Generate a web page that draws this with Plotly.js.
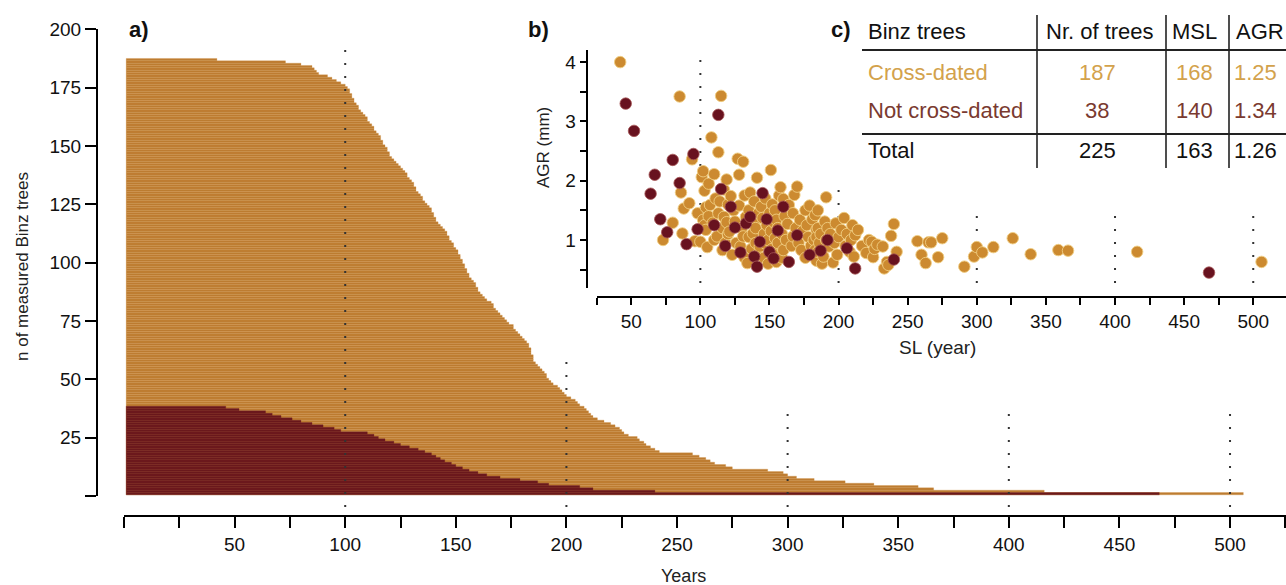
<!DOCTYPE html>
<html>
<head>
<meta charset="utf-8">
<script src="https://cdn.plot.ly/plotly-3.0.1.min.js"></script>
<style>html,body{margin:0;padding:0;background:#fff;}#chart{width:1286px;height:585px;}</style>
</head>
<body>
<div id="chart"></div>
<script>
// ---------- DATA ----------
// Cross-dated trees: segment length (SL, years) and average growth rate (AGR, mm)
const crossSL = [42,73,80,85,86,87,88,92,94,96,
98,100,101,102,102,103,103,104,104,105,
106,106,107,108,109,110,110,111,112,113,
113,114,115,116,116,117,117,118,119,119,
120,120,121,122,123,124,125,126,127,128,
128,129,130,131,131,132,132,133,134,135,
135,136,137,138,139,139,140,140,141,141,
142,143,144,145,146,146,147,147,148,149,
149,150,151,151,152,152,153,153,154,154,
155,155,156,156,157,158,159,159,160,160,
161,162,163,164,166,167,167,168,169,170,
171,172,173,174,176,176,177,178,179,180,
181,182,183,183,184,184,184,185,185,185,
186,187,188,189,190,191,191,192,193,194,
196,197,198,199,200,202,204,205,206,208,
209,210,211,212,214,217,220,222,224,225,
226,228,232,233,235,236,238,240,242,257,
260,263,265,267,272,275,291,298,300,304,
312,326,339,359,366,416,506];
const crossAGR = [4.00,1.00,1.29,3.42,1.80,1.11,1.53,1.62,2.36,0.98,
1.45,0.97,2.06,1.34,2.16,1.83,1.25,1.17,1.55,0.88,
1.95,1.40,1.59,2.73,1.29,2.11,1.00,1.70,1.06,2.48,
1.45,1.65,3.43,1.20,0.83,1.39,1.85,0.95,2.02,1.30,
1.10,1.60,1.14,1.74,0.75,1.50,1.31,0.95,2.37,1.58,
2.10,0.89,1.20,2.32,1.06,1.75,0.70,1.39,0.61,1.05,
1.50,1.80,0.85,1.11,1.30,1.65,0.95,1.20,2.05,0.75,
1.45,0.89,1.56,1.37,1.10,0.70,0.94,1.70,1.25,1.00,
0.60,1.45,2.18,1.15,0.85,1.60,1.30,0.75,1.03,1.50,
1.34,0.63,1.20,0.95,1.75,1.89,1.10,0.70,1.69,0.83,
1.40,1.00,1.27,1.59,0.90,1.06,1.45,1.76,1.20,1.90,
0.95,1.34,0.83,1.15,1.50,0.70,1.25,1.05,1.58,0.90,
1.35,1.00,0.83,1.42,1.17,0.65,1.05,1.20,0.80,1.50,
0.95,1.10,0.60,0.72,1.31,1.72,1.00,1.20,0.89,1.10,
0.62,0.95,1.28,0.75,1.05,1.17,1.37,0.90,1.10,0.80,
1.00,1.25,0.72,1.08,1.17,0.90,0.78,1.00,0.97,0.71,
0.85,0.92,0.89,0.52,0.63,0.58,1.07,1.27,0.80,0.98,
0.75,0.61,0.96,0.96,0.71,1.03,0.55,0.72,0.88,0.79,
0.88,1.03,0.76,0.83,0.82,0.80,0.63];
// Not cross-dated trees
const notSL = [46,52,64,67,71,76,80,85,90,95,98,110,113,115,118,122,125,129,133,136,
139,141,143,145,148,150,153,156,160,164,170,179,187,192,206,212,240,468];
const notAGR = [3.30,2.84,1.78,2.10,1.35,1.13,2.35,1.96,0.93,2.45,1.18,1.25,3.11,1.86,0.90,1.56,1.21,0.79,1.28,1.39,
0.72,0.55,0.97,1.79,1.35,0.80,0.69,1.16,1.56,0.63,1.08,0.75,0.82,1.00,0.86,0.52,0.67,0.45];
// Table c)
const tableHeader = ['Binz trees','Nr. of trees','MSL','AGR'];
const groups = ['Cross-dated','Not cross-dated','Total'];
const nTrees = [187, 38, 225];
const mslVals = [168, 140, 163];
const agrVals = ['1.25','1.34','1.26'];
// Axis ticks
const xTicksA = [0,25,50,75,100,125,150,175,200,225,250,275,300,325,350,375,400,425,450,475,500,525];
const yTicksA = [0,25,50,75,100,125,150,175,200];
const xTicksB = [25,50,75,100,125,150,175,200,225,250,275,300,325,350,375,400,425,450,475,500];
const yTicksB = [0.5,1,1.5,2,2.5,3,3.5,4];
const guideYears = [100,200,300,400,500];

// ---------- STYLE ----------
const W = 1286, H = 585;
const fx = p => p / W, fy = p => (H - p) / H;
const FONT = 'Liberation Sans, Arial, Helvetica, sans-serif';
const ORANGE = '#bd7c31', MAROON = '#6a181c';
const DOT_OR = '#cc8a30', DOT_MA = '#68121f';

const crossSorted = crossSL.slice().sort((a,b)=>b-a);
const notSorted = notSL.slice().sort((a,b)=>b-a);
const rank = n => Array.from({length:n}, (_,i)=>i+1);

const traces = [
  {type:'bar', orientation:'h', y: rank(crossSorted.length), x: crossSorted.map(v=>v-1), base: 1,
   width: 1, marker:{color: ORANGE, line:{color:'rgba(206,142,62,0.55)', width:0.5}}, xaxis:'x', yaxis:'y', hoverinfo:'skip'},
  {type:'bar', orientation:'h', y: rank(notSorted.length), x: notSorted.map(v=>v-1), base: 1,
   width: 1, marker:{color: MAROON, line:{color:'rgba(125,36,36,0.6)', width:0.5}}, xaxis:'x', yaxis:'y', hoverinfo:'skip'},
  {type:'scatter', mode:'markers', x: crossSL, y: crossAGR, xaxis:'x2', yaxis:'y2',
   marker:{color: DOT_OR, size:11.5, line:{color:'rgba(240,205,130,0.9)', width:1}}, hoverinfo:'skip', cliponaxis:false},
  {type:'scatter', mode:'markers', x: notSL, y: notAGR, xaxis:'x2', yaxis:'y2',
   marker:{color: DOT_MA, size:11.5, line:{color:'rgba(165,85,85,0.8)', width:1}}, hoverinfo:'skip', cliponaxis:false}
];

const axBase = {showgrid:false, zeroline:false, showline:true, linecolor:'#000', linewidth:2,
  ticks:'outside', tickcolor:'#000', tickwidth:2, tickfont:{family:FONT, size:19, color:'#111'}, fixedrange:true};

const shapes = [];
// dotted guides in a)
const guideTopA = {100:42, 200:362, 300:406, 400:406, 500:406};
guideYears.forEach(g => shapes.push({type:'line', xref:'x', yref:'paper', x0:g, x1:g, y0:fy(507), y1:fy(guideTopA[g]),
  line:{color:'#333', width:2, dash:'2px,11px'}, layer:'above'}));
// dotted guides in b)
const guideTopB = {100:52, 200:186, 300:212, 400:212, 500:212};
guideYears.forEach(g => shapes.push({type:'line', xref:'x2', yref:'paper', x0:g, x1:g, y0:fy(283), y1:fy(guideTopB[g]),
  line:{color:'#333', width:2, dash:'2px,11px'}, layer:'below'}));
// table lines
[1037, 1166, 1229].forEach(xp => shapes.push({type:'line', xref:'paper', yref:'paper', x0:fx(xp), x1:fx(xp), y0:fy(15), y1:fy(168), line:{color:'#222', width:1.6}}));
[50, 134].forEach(yp => shapes.push({type:'line', xref:'paper', yref:'paper', x0:fx(862), x1:1, y0:fy(yp), y1:fy(yp), line:{color:'#222', width:1.8}}));

const ann = [];
const addText = (text, xp, yp, opt={}) => ann.push(Object.assign({text, xref:'paper', yref:'paper', x:fx(xp), y:fy(yp),
  showarrow:false, xanchor:'center', yanchor:'middle', font:{family:FONT, size:17, color:'#111'}}, opt));
addText('<b>a)</b>', 127, 29, {xanchor:'left', font:{family:FONT, size:22, color:'#111'}});
addText('<b>b)</b>', 526, 29, {xanchor:'left', font:{family:FONT, size:22, color:'#111'}});
addText('<b>c)</b>', 829, 29, {xanchor:'left', font:{family:FONT, size:22, color:'#111'}});
addText('n of measured Binz trees', 22, 267, {textangle:-90, font:{family:FONT, size:17, color:'#222'}});
addText('Years', 683, 576, {font:{family:FONT, size:18, color:'#222'}});
addText('SL (year)', 937, 347, {font:{family:FONT, size:19, color:'#222'}});
addText('AGR (mm)', 543, 148, {textangle:-90, font:{family:FONT, size:17, color:'#222'}});
// table
const TF = 22;
const rowY = [72, 110, 151];
const rowColor = ['#d3a24c', '#7a3a30', '#111'];
addText(tableHeader[0], 866, 31, {xanchor:'left', font:{family:FONT, size:TF, color:'#111'}});
addText(tableHeader[1], 1100, 31, {font:{family:FONT, size:TF, color:'#111'}});
addText(tableHeader[2], 1194, 31, {font:{family:FONT, size:TF, color:'#111'}});
addText(tableHeader[3], 1234, 31, {xanchor:'left', font:{family:FONT, size:TF, color:'#111'}});
groups.forEach((g,i) => {
  const f = {family:FONT, size:TF, color: rowColor[i]};
  addText(g, 866, rowY[i], {xanchor:'left', font:f});
  addText(String(nTrees[i]), 1097, rowY[i], {font:f});
  addText(String(mslVals[i]), 1194, rowY[i], {font:f});
  addText(agrVals[i], 1232, rowY[i], {xanchor:'left', font:f});
});

const layout = {
  width: W, height: H, margin:{l:0, r:0, t:0, b:0}, paper_bgcolor:'#fff', plot_bgcolor:'rgba(0,0,0,0)',
  showlegend:false, barmode:'overlay', bargap:0,
  xaxis: Object.assign({}, axBase, {domain:[fx(124), 1], range:[0, 525.3], anchor:'free', position: fy(516),
    tickvals: xTicksA, ticktext: xTicksA.map(v => (v>0 && v%50===0 && v<=500) ? String(v) : ''), ticklen:11}),
  yaxis: Object.assign({}, axBase, {domain:[fy(496), fy(29.3)], range:[0, 200], anchor:'free', position: fx(97),
    tickvals: yTicksA, ticktext: yTicksA.map(v => v>0 ? String(v) : ''), ticklen:11}),
  xaxis2: Object.assign({}, axBase, {domain:[fx(596.7), 1], range:[25, 523.7], anchor:'free', position: fy(296.7),
    tickvals: xTicksB, ticktext: xTicksB.map(v => v%50===0 ? String(v) : ''), ticklen:7}),
  yaxis2: Object.assign({}, axBase, {domain:[fy(288.3), fy(50)], range:[0.185, 4.204], anchor:'free', position: fx(586.7),
    tickvals: yTicksB, ticktext: yTicksB.map(v => Number.isInteger(v) ? String(v) : ''), ticklen:6}),
  shapes, annotations: ann
};

Plotly.newPlot('chart', traces, layout, {staticPlot:true, displayModeBar:false});
</script>
</body>
</html>
